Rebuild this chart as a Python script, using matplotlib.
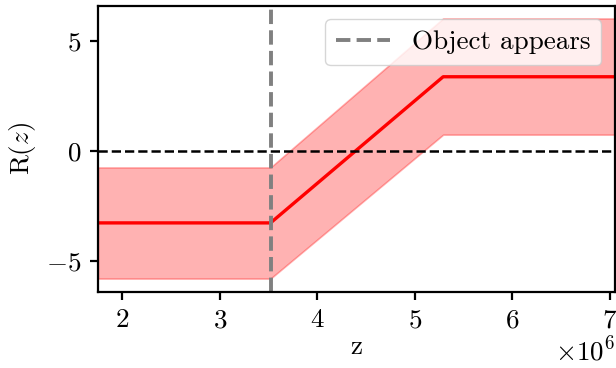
import matplotlib
matplotlib.use("Agg")
import matplotlib.pyplot as plt
import numpy as np

plt.rcParams['font.family'] = 'serif'
plt.rcParams['font.serif'] = ['cmr10']
plt.rcParams['mathtext.fontset'] = 'cm'
plt.rcParams['axes.formatter.use_mathtext'] = True
plt.rcParams['font.size'] = 19.5

z = np.array([1.75e6, 3.52e6, 5.29e6, 7.05e6])
r_mean = np.array([-3.26, -3.26, 3.38, 3.38])
r_upper = np.array([-0.74, -0.74, 6.03, 6.03])
r_lower = np.array([-5.79, -5.79, 0.75, 0.75])
z_appear = 3.52e6

fig = plt.figure(figsize=(6.16, 3.68), dpi=100)
ax = fig.add_axes([0.159, 0.2065, 0.839, 0.7775])

ax.fill_between(z, r_lower, r_upper, color='red', alpha=0.3, linewidth=1.2)
ax.plot(z, r_mean, color='red', lw=2.4)
ax.axhline(0, color='black', ls='--', lw=1.8)
ax.axvline(z_appear, color='gray', ls='--', lw=2.8, label='Object appears')

ax.set_xlim(1.75e6, 7.05e6)
ax.set_ylim(-6.4, 6.6)
ax.set_yticks([-5, 0, 5])
ax.set_xlabel('z', labelpad=2)
ax.set_ylabel(r'R($z$)', labelpad=6)
for s in ax.spines.values():
    s.set_linewidth(1.6)
ax.tick_params(width=1.6, length=6, pad=6)
ax.legend(loc='upper right', fontsize=19.5)

fig.savefig('out.png', dpi=100)
